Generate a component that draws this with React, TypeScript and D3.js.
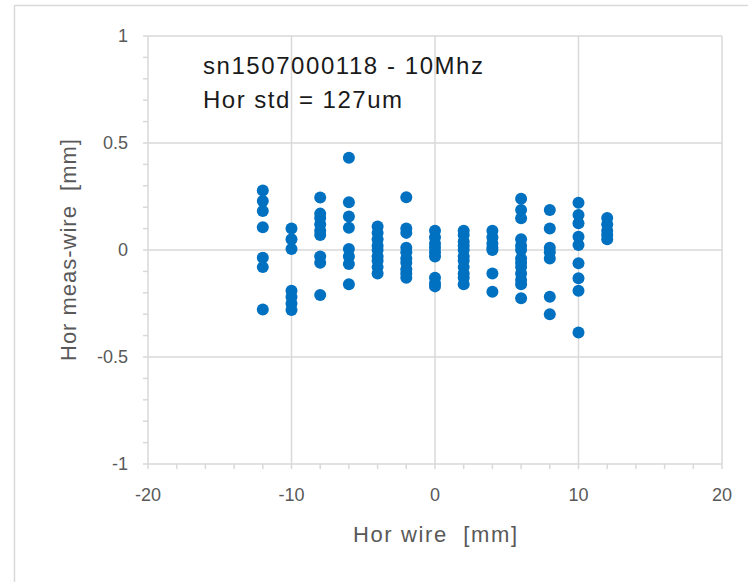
import React from "react";
import * as d3 from "d3";

const xPositions = [-12, -10, -8, -6, -4, -2, 0, 2, 4, 6, 8, 10, 12];
const yByX: number[][] = [
  [0.278, 0.229, 0.182, 0.106, -0.036, -0.08, -0.278],
  [0.1, 0.05, 0.005, -0.19, -0.22, -0.25, -0.28],
  [0.245, 0.17, 0.15, 0.12, 0.09, 0.07, -0.03, -0.06, -0.21],
  [0.431, 0.223, 0.156, 0.104, 0.005, -0.03, -0.065, -0.16],
  [0.11, 0.08, 0.05, 0.02, 0.0, -0.03, -0.05, -0.08, -0.11],
  [0.247, 0.1, 0.08, 0.01, -0.01, -0.04, -0.06, -0.09, -0.11, -0.13],
  [0.09, 0.06, 0.03, 0.01, -0.01, -0.03, -0.13, -0.155, -0.17],
  [0.09, 0.07, 0.04, 0.02, 0.0, -0.03, -0.05, -0.08, -0.11, -0.13, -0.16],
  [0.09, 0.06, 0.03, 0.01, 0.0, -0.11, -0.195],
  [0.24, 0.187, 0.148, 0.05, 0.02, 0.0, -0.04, -0.06, -0.08, -0.11, -0.14, -0.16, -0.225],
  [0.187, 0.1, 0.01, -0.01, -0.04, -0.218, -0.3],
  [0.221, 0.164, 0.125, 0.062, 0.023, -0.062, -0.132, -0.19, -0.386],
  [0.15, 0.12, 0.09, 0.07, 0.05],
];
const xTicks = [-20, -10, 0, 10, 20];
const yTicks = [-1, -0.5, 0, 0.5, 1];
const annotation = ["sn1507000118 - 10Mhz", "Hor std = 127um"];
const annotationWidths = [280, 199];

export default function App() {
  const W = 748, H = 582;
  const left = 148, right = 722, top = 36, bottom = 464;
  const x = d3.scaleLinear().domain([-20, 20]).range([left, right]);
  const y = d3.scaleLinear().domain([-1, 1]).range([bottom, top]);
  const grid = "#d9d9d9";
  const txt = "#595959";
  const font = "'Liberation Sans', Arial, sans-serif";
  const points: { xv: number; yv: number }[] = [];
  xPositions.forEach((xv, i) => yByX[i].forEach((yv) => points.push({ xv, yv })));
  const yMinor = d3.range(-10, 11).map((v) => v / 10);
  const xMinor = d3.range(-20, 21, 2);
  return (
    <svg width={W} height={H} style={{ position: "absolute", left: 0, top: 0, background: "#fff" }}>
      <rect x={14.5} y={5.5} width={W + 10} height={H + 10} fill="#fff" stroke={grid} strokeWidth={1.5} />
      {xTicks.slice(1).map((t) => (
        <line key={"gx" + t} x1={x(t)} x2={x(t)} y1={top} y2={bottom} stroke={grid} strokeWidth={1.5} />
      ))}
      {yTicks.slice(1).map((t) => (
        <line key={"gy" + t} x1={left} x2={right} y1={y(t)} y2={y(t)} stroke={grid} strokeWidth={1.5} />
      ))}
      <line x1={left} x2={left} y1={top} y2={bottom} stroke={grid} strokeWidth={1.5} />
      <line x1={left} x2={right} y1={bottom} y2={bottom} stroke={grid} strokeWidth={1.5} />
      {yMinor.map((t) => (
        <line key={"ty" + t} x1={left - 5} x2={left} y1={y(t)} y2={y(t)} stroke={grid} strokeWidth={1.5} />
      ))}
      {xMinor.map((t) => (
        <line key={"tx" + t} x1={x(t)} x2={x(t)} y1={bottom} y2={bottom + 5} stroke={grid} strokeWidth={1.5} />
      ))}
      {yTicks.map((t) => (
        <text key={"ly" + t} x={128} y={y(t)} dy="0.35em" textAnchor="end" fill={txt} fontFamily={font} fontSize={18}>
          {String(t)}
        </text>
      ))}
      {xTicks.map((t) => (
        <text key={"lx" + t} x={x(t)} y={495} dy="0.35em" textAnchor="middle" fill={txt} fontFamily={font} fontSize={18}>
          {String(t)}
        </text>
      ))}
      <text x={x(0)} y={534} dy="0.35em" textAnchor="middle" fill={txt} fontFamily={font} fontSize={22}
        textLength={164} lengthAdjust="spacing" style={{ whiteSpace: "pre" }}>
        {"Hor wire  [mm]"}
      </text>
      <text transform={`translate(68,${y(0)}) rotate(-90)`} dy="0.35em" textAnchor="middle" fill={txt} fontFamily={font}
        fontSize={22} textLength={222} lengthAdjust="spacing" style={{ whiteSpace: "pre" }}>
        {"Hor meas-wire  [mm]"}
      </text>
      {points.map((p, i) => (
        <circle key={i} cx={x(p.xv)} cy={y(p.yv)} r={6} fill="#0070C0" />
      ))}
      {annotation.map((s, i) => (
        <text key={s} x={203} y={66 + i * 34} dy="0.35em" fill="#1a1a1a" fontFamily={font} fontSize={24}
          textLength={annotationWidths[i]} lengthAdjust="spacing">
          {s}
        </text>
      ))}
    </svg>
  );
}
